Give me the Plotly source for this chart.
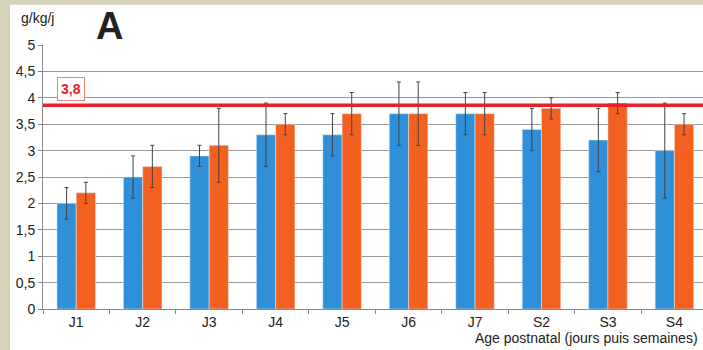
import plotly.graph_objects as go

# Données
categories = ["J1", "J2", "J3", "J4", "J5", "J6", "J7", "S2", "S3", "S4"]
bleu = [2.0, 2.5, 2.9, 3.3, 3.3, 3.7, 3.7, 3.4, 3.2, 3.0]
bleu_err = [0.3, 0.4, 0.2, 0.6, 0.4, 0.6, 0.4, 0.4, 0.6, 0.9]
orange = [2.2, 2.7, 3.1, 3.5, 3.7, 3.7, 3.7, 3.8, 3.9, 3.5]
orange_err = [0.2, 0.4, 0.7, 0.2, 0.4, 0.6, 0.4, 0.2, 0.2, 0.2]
seuil = 3.86
y_ticks = [0, 0.5, 1, 1.5, 2, 2.5, 3, 3.5, 4, 4.5, 5]
y_labels = ["0", "0,5", "1", "1,5", "2", "2,5", "3", "3,5", "4", "4,5", "5"]

err_style = dict(type="data", visible=True, color="#444444", thickness=1, width=2)

fig = go.Figure()
fig.add_trace(go.Bar(x=categories, y=bleu, marker_color="#2f8fd8",
                     error_y=dict(array=bleu_err, **err_style)))
fig.add_trace(go.Bar(x=categories, y=orange, marker_color="#f46020",
                     error_y=dict(array=orange_err, **err_style)))

# ligne seuil rouge
fig.add_shape(type="line", xref="paper", x0=0, x1=1, yref="y", y0=seuil, y1=seuil,
              line=dict(color="#e8202a", width=3.5))

# fond blanc du graphique sur le papier scanné
fig.add_shape(type="rect", xref="paper", yref="paper", x0=-0.05, x1=1.01,
              y0=-0.16, y1=1.152, fillcolor="white", line_width=0, layer="below")

fig.add_annotation(x=0.042, y=4.17, xref="paper", yref="y", text="<b>3,8</b>",
                   xanchor="center", yanchor="middle",
                   showarrow=False, font=dict(color="#e8202a", size=14),
                   bordercolor="#f08080", borderwidth=1, borderpad=3, bgcolor="white")
fig.add_annotation(x=-0.009, y=1.102, xref="paper", yref="paper", text="g/kg/j",
                   xanchor="center", yanchor="middle",
                   showarrow=False, font=dict(size=14, color="#222"))
fig.add_annotation(x=0.1, y=1.072, xref="paper", yref="paper", text="<b>A</b>",
                   xanchor="center", yanchor="middle",
                   showarrow=False, font=dict(size=38, color="#222"))
fig.add_annotation(x=0.995, y=-0.148, xref="paper", yref="paper",
                   xanchor="right", yanchor="bottom",
                   text="Age postnatal (jours puis semaines)",
                   showarrow=False, font=dict(size=14, color="#222"))

fig.update_layout(
    width=703, height=350,
    margin=dict(l=43, r=0, t=45, b=41),
    paper_bgcolor="#d6d2b8", plot_bgcolor="white",
    font=dict(family="Liberation Sans, Arial, sans-serif", size=14, color="#222"),
    barmode="group", bargap=0.42, bargroupgap=0,
    showlegend=False,
)
fig.update_xaxes(range=[-0.5, 9.43], showline=True, linecolor="#888", ticks="outside",
                 tickson="boundaries", ticklen=4, tickcolor="#888", showgrid=False)
fig.update_yaxes(range=[0, 5], tickvals=y_ticks, ticktext=y_labels, showgrid=True,
                 gridcolor="#9a9a9a", gridwidth=1, showline=True, linecolor="#888",
                 ticks="outside", ticklen=4, tickcolor="#888", zeroline=False)

fig.write_html("out.html", config={"displayModeBar": False},
               post_script="document.body.style.margin='0';")
